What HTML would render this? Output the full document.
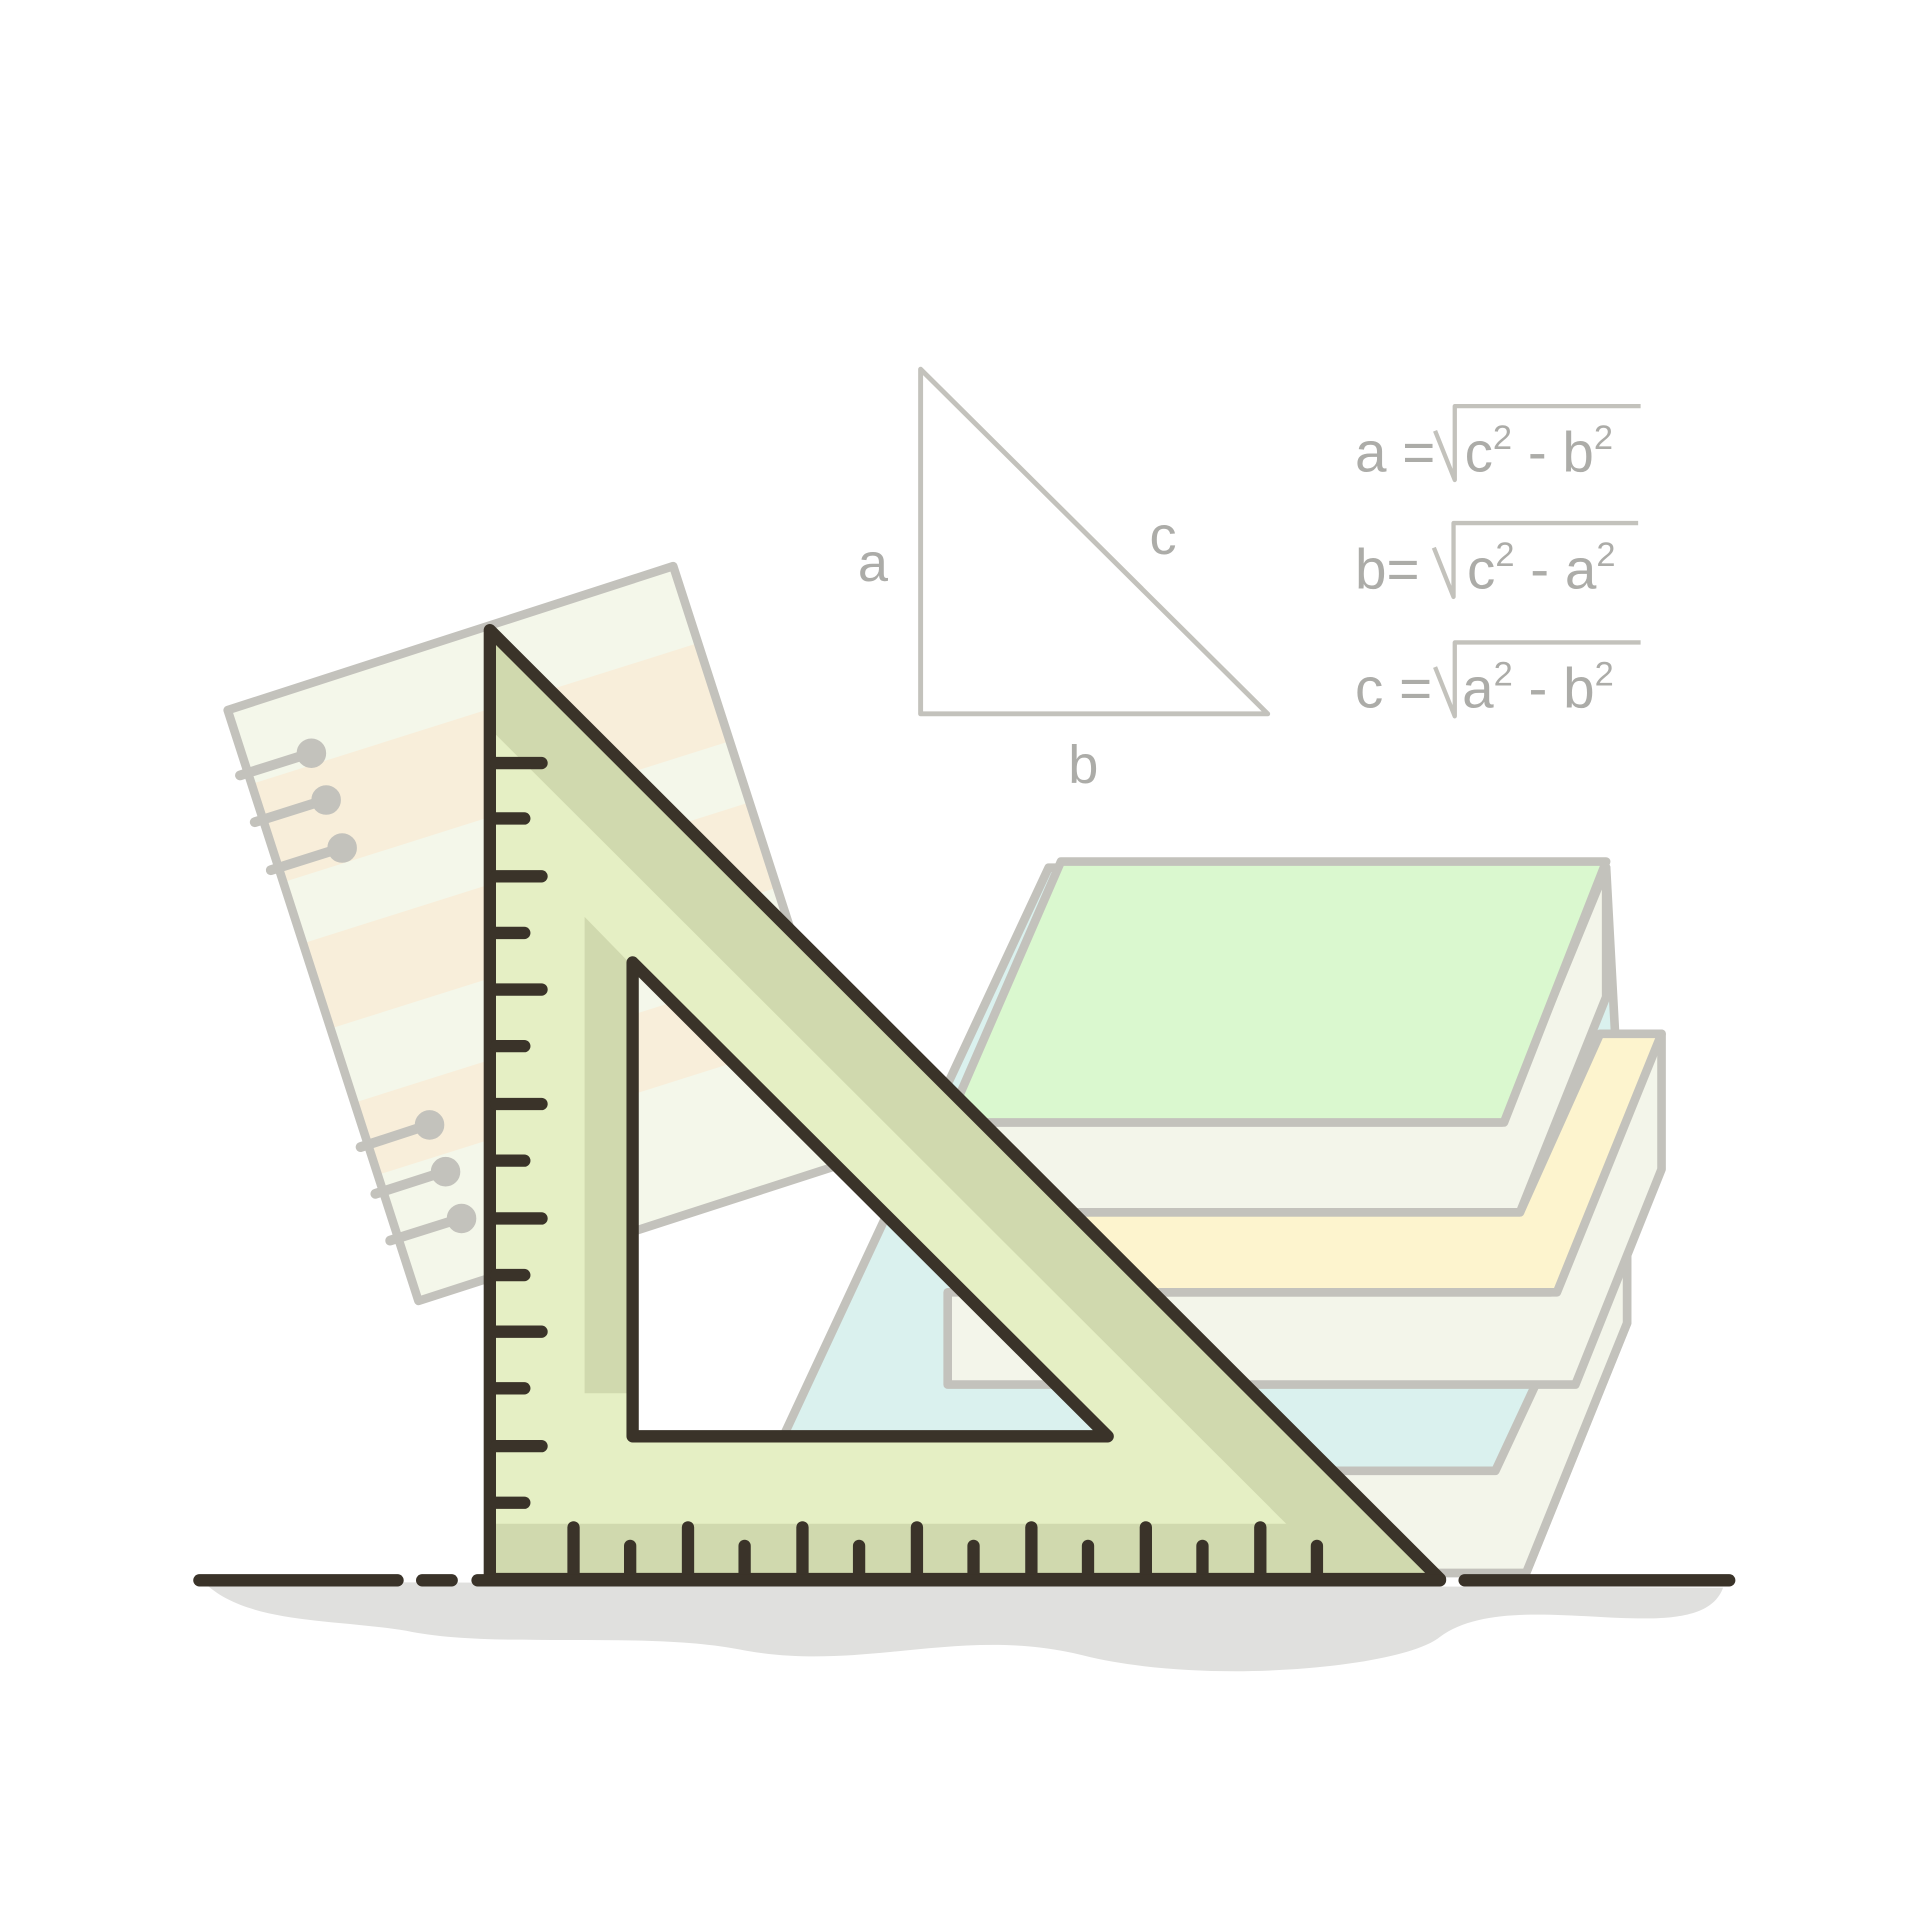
<!DOCTYPE html>
<html><head><meta charset="utf-8"><style>html,body{margin:0;padding:0;background:#fff}svg{display:block}</style></head>
<body>
<svg width="1920" height="1920" viewBox="0 0 1560 1560" xmlns="http://www.w3.org/2000/svg" font-family="Liberation Sans, sans-serif">
<defs>
<clipPath id="nbclip"><polygon points="185,577 547,460 702,940 340,1057"/></clipPath>
<clipPath id="sqclip"><path clip-rule="evenodd" d="M398,512 L1170,1283 L398,1283 Z M514,782 L900,1167 L514,1167 Z"/></clipPath>
</defs>
<path d="M165,1285 C200,1320 270,1315 330,1325 C400,1340 520,1325 600,1340 C700,1360 780,1320 880,1345 C980,1370 1140,1355 1170,1330 C1230,1285 1380,1345 1400,1290 Z" fill="#e0e0de"/>
<g stroke-linejoin="round">
<polygon points="185,577 547,460 702,940 340,1057" fill="#f4f7ea"/>
<g clip-path="url(#nbclip)">
<polygon points="195,640 575,520 600,600 220,720" fill="#f8eeda"/>
<polygon points="235,770 615,650 635,720 255,840" fill="#f8eeda"/>
<polygon points="275,900 655,780 670,840 290,960" fill="#f8eeda"/>
</g>
<polygon points="185,577 547,460 702,940 340,1057" fill="none" stroke="#c3c2bc" stroke-width="7" stroke-linejoin="round"/>
<g stroke="#c3c2bc" stroke-width="8" stroke-linecap="round" fill="#c3c2bc">
<line x1="195" y1="630" x2="252" y2="612"/><circle cx="253" cy="612" r="8"/>
<line x1="207" y1="668" x2="264" y2="650"/><circle cx="265" cy="650" r="8"/>
<line x1="220" y1="707" x2="277" y2="689"/><circle cx="278" cy="689" r="8"/>
<line x1="293" y1="932" x2="348" y2="914"/><circle cx="349" cy="914" r="8"/>
<line x1="305" y1="970" x2="361" y2="952"/><circle cx="362" cy="952" r="8"/>
<line x1="317" y1="1008" x2="374" y2="990"/><circle cx="375" cy="990" r="8"/>
</g></g>
<g stroke="#c3c2bc" stroke-width="7" stroke-linejoin="round">
<polygon points="636,1168 852,705 1305,705 1322,1020 1322,1075 1240,1278 1140,1278 700,1168" fill="#daf1ee"/>
<polygon points="780,1195 1215,1195 1250,1120 1322,1020 1322,1075 1240,1278 760,1278" fill="#f3f5ea"/>
<polygon points="770,1050 1260,1050 1350,840 1350,950 1280,1125 770,1125" fill="#f3f5ea"/>
<polygon points="800,985 1235,985 1300,840 1350,840 1265,1050 780,1050" fill="#fdf4ce"/>
<polygon points="790,912 1220,912 1305,705 1305,810 1235,985 800,985" fill="#f3f5ea"/>
<polygon points="862,700 1305,700 1222,912 770,912" fill="#daf8cf"/>
</g>
<g stroke-linejoin="round">
<g clip-path="url(#sqclip)">
<rect x="390" y="500" width="800" height="800" fill="#e5efc4"/>
<polygon points="403,520 1175,1290 1045,1238 403,597" fill="#d0d9ae"/>
<polygon points="403,1238 1130,1238 1180,1290 403,1290" fill="#d0d9ae"/>
<polygon points="475,745 514,785 514,1132 475,1132" fill="#d0d9ae"/>
</g>
<polygon points="398,512 1170,1283 398,1283" fill="none" stroke="#3a3329" stroke-width="10"/>
<polygon points="514,782 900,1167 514,1167" fill="none" stroke="#3a3329" stroke-width="10"/>
<g stroke="#3a3329" stroke-width="10" stroke-linecap="round">
<line x1="403" y1="620" x2="440" y2="620"/><line x1="403" y1="665" x2="426" y2="665"/>
<line x1="403" y1="712" x2="440" y2="712"/><line x1="403" y1="758" x2="426" y2="758"/>
<line x1="403" y1="804" x2="440" y2="804"/><line x1="403" y1="850" x2="426" y2="850"/>
<line x1="403" y1="897" x2="440" y2="897"/><line x1="403" y1="943" x2="426" y2="943"/>
<line x1="403" y1="990" x2="440" y2="990"/><line x1="403" y1="1036" x2="426" y2="1036"/>
<line x1="403" y1="1082" x2="440" y2="1082"/><line x1="403" y1="1128" x2="426" y2="1128"/>
<line x1="403" y1="1175" x2="440" y2="1175"/><line x1="403" y1="1221" x2="426" y2="1221"/>
<line x1="466" y1="1278" x2="466" y2="1241"/><line x1="512" y1="1278" x2="512" y2="1256"/>
<line x1="559" y1="1278" x2="559" y2="1241"/><line x1="605" y1="1278" x2="605" y2="1256"/>
<line x1="652" y1="1278" x2="652" y2="1241"/><line x1="698" y1="1278" x2="698" y2="1256"/>
<line x1="745" y1="1278" x2="745" y2="1241"/><line x1="791" y1="1278" x2="791" y2="1256"/>
<line x1="838" y1="1278" x2="838" y2="1241"/><line x1="884" y1="1278" x2="884" y2="1256"/>
<line x1="931" y1="1278" x2="931" y2="1241"/><line x1="977" y1="1278" x2="977" y2="1256"/>
<line x1="1024" y1="1278" x2="1024" y2="1241"/><line x1="1070" y1="1278" x2="1070" y2="1256"/>
</g></g>
<g stroke="#3a3329" stroke-width="10" stroke-linecap="round">
<line x1="162" y1="1284" x2="323" y2="1284"/><line x1="343" y1="1284" x2="367" y2="1284"/>
<line x1="388" y1="1284" x2="1170" y2="1284"/><line x1="1190" y1="1284" x2="1405" y2="1284"/>
</g>
<polygon points="748,300 1030,580 748,580" fill="none" stroke="#c3c2bc" stroke-width="4" stroke-linejoin="round"/>
<g fill="#acaca8" font-size="44">
<text x="697" y="472">a</text>
<text x="934" y="450">c</text>
<text x="868" y="636">b</text>
</g>
<g fill="#acaca8" font-size="46">
<text x="1101" y="383">a =<tspan x="1190">c</tspan><tspan font-size="28" dy="-18">2</tspan><tspan dy="18"> - b</tspan><tspan font-size="28" dy="-18">2</tspan></text>
<text x="1101" y="478">b=<tspan x="1192">c</tspan><tspan font-size="28" dy="-18">2</tspan><tspan dy="18"> - a</tspan><tspan font-size="28" dy="-18">2</tspan></text>
<text x="1101" y="575">c =<tspan x="1188">a</tspan><tspan font-size="28" dy="-18">2</tspan><tspan dy="18"> - b</tspan><tspan font-size="28" dy="-18">2</tspan></text>
</g>
<g fill="none" stroke="#c3c2bc" stroke-width="3.5" stroke-linejoin="round">
<path d="M1166,350 L1182,390 L1182,330 L1333,330"/>
<path d="M1165,445 L1181,485 L1181,425 L1331,425"/>
<path d="M1166,542 L1182,582 L1182,522 L1333,522"/>
</g>
</svg>
</body></html>
